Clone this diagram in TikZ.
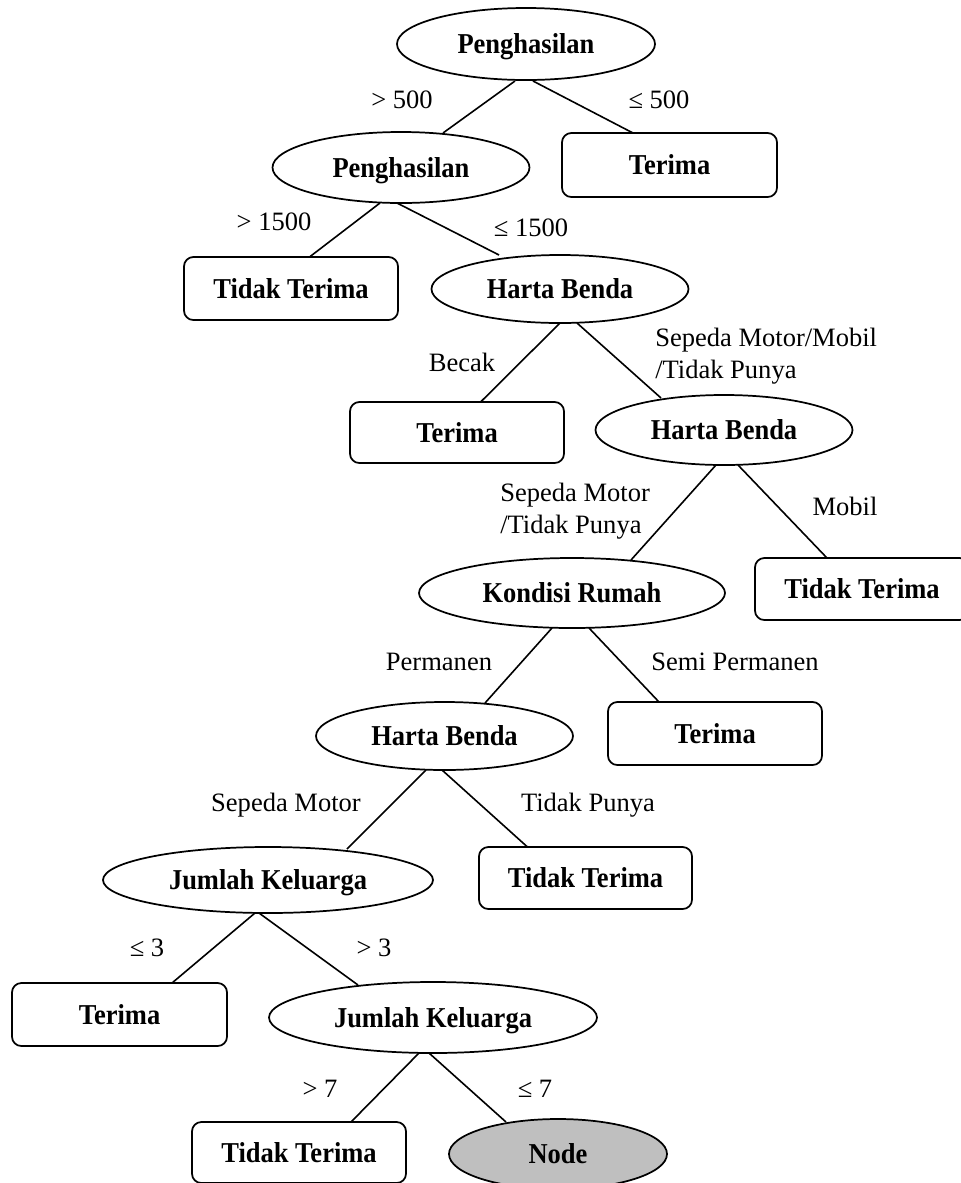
\documentclass[tikz,border=0pt]{standalone}
\usepackage{fontspec}
\setmainfont{Liberation Serif}
\newfontfamily\nodefont{Liberation Serif}[FakeStretch=0.92]
\usetikzlibrary{shapes.geometric,calc}

\tikzset{
  base/.style={font=\fontsize{19.9}{24}\selectfont, text height=13.2pt, text depth=0pt, inner sep=0pt},
  dec/.style 2 args={inner sep=0pt, text height=14.4pt, text depth=0pt, ellipse, draw, line width=1.3pt,
    font=\nodefont\fontsize{21.6}{24}\selectfont\bfseries,
    minimum width=#1*0.75pt, minimum height=#2*0.75pt},
  leaf/.style 2 args={inner sep=0pt, text height=14.4pt, text depth=0pt, rectangle, rounded corners=7pt, draw, line width=1.3pt,
    font=\nodefont\fontsize{21.6}{24}\selectfont\bfseries,
    minimum width=#1*0.75pt, minimum height=#2*0.75pt},
  lbl/.style={base},
  lbl2/.style={font=\fontsize{19.9}{24}\selectfont, inner sep=0pt, align=left, anchor=west},
  edge/.style={line width=1.2pt}
}

\begin{document}
\begin{tikzpicture}[x=0.75pt,y=-0.75pt]
\useasboundingbox (0,0) rectangle (961,1183);
\clip (0,0) rectangle (961,1183);

% decision and leaf nodes
\node[dec={258}{72}]  (root) at (526,44)     {Penghasilan};
\node[leaf={215}{64}] (t1)   at (669.5,165)  {Terima};
\node[dec={257}{71}]  (p2)   at (401,167.5)  {Penghasilan};
\node[leaf={214}{63}] (tt1)  at (291,288.5)  {Tidak Terima};
\node[dec={257}{68}]  (hb1)  at (560,289)    {Harta Benda};
\node[leaf={214}{61}] (t2)   at (457,432.5)  {Terima};
\node[dec={257}{70}]  (hb2)  at (724,430)    {Harta Benda};
\node[dec={306}{70}]  (kr)   at (572,593)    {Kondisi Rumah};
\node[leaf={214}{62}] (tt2)  at (862,589)    {Tidak Terima};
\node[dec={257}{68}]  (hb3)  at (444.5,736)  {Harta Benda};
\node[leaf={214}{63}] (t3)   at (715,733.5)  {Terima};
\node[dec={330}{66}]  (jk1)  at (268,880)    {Jumlah Keluarga};
\node[leaf={213}{62}] (tt3)  at (585.5,878)  {Tidak Terima};
\node[leaf={215}{63}] (t4)   at (119.5,1014.5) {Terima};
\node[dec={328}{71}]  (jk2)  at (433,1017.5) {Jumlah Keluarga};
\node[leaf={214}{61}] (tt4)  at (299,1152.5) {Tidak Terima};
\node[dec={218}{70}, fill=black!25] (nd) at (558,1154) {Node};

% branches
\draw[edge] ($(root)+(-11,37)$)  -- ($(p2)+(42,-34.5)$);
\draw[edge] ($(root)+(7,37)$)    -- ($(t1)+(-36.5,-32)$);
\draw[edge] ($(p2)+(-21,35.5)$)  -- ($(tt1)+(18.5,-31.5)$);
\draw[edge] ($(p2)+(-4,35.5)$)   -- ($(hb1)+(-61,-34)$);
\draw[edge] ($(hb1)+(0,34)$)     -- ($(t2)+(23.6,-30.5)$);
\draw[edge] ($(hb1)+(17,34)$)    -- ($(hb2)+(-63,-32)$);
\draw[edge] ($(hb2)+(-8,35)$)    -- ($(kr)+(59,-33)$);
\draw[edge] ($(hb2)+(14,35)$)    -- ($(tt2)+(-35,-31)$);
\draw[edge] ($(kr)+(-20,35)$)    -- ($(hb3)+(40.5,-33)$);
\draw[edge] ($(kr)+(17,35)$)     -- ($(t3)+(-56,-31.5)$);
\draw[edge] ($(hb3)+(-18.5,34)$) -- ($(jk1)+(79,-31)$);
\draw[edge] ($(hb3)+(-2.5,34)$)  -- ($(tt3)+(-58,-31)$);
\draw[edge] ($(jk1)+(-13,33)$)   -- ($(t4)+(52.5,-31.5)$);
\draw[edge] ($(jk1)+(-9,33)$)    -- ($(jk2)+(-75,-32.5)$);
\draw[edge] ($(jk2)+(-14,35.5)$) -- ($(tt4)+(52,-30.5)$);
\draw[edge] ($(jk2)+(-4,35.5)$)  -- ($(nd)+(-52,-32)$);

% branch labels
\node[lbl] (l1)  at (402,100)  {> 500};
\node[lbl] (l2)  at (659,100)  {≤ 500};
\node[lbl] (l3)  at (274,222)  {> 1500};
\node[lbl] (l4)  at (531,228)  {≤ 1500};
\node[lbl] (l5)  at (462,363)  {Becak};
\node[lbl2] (l6) at (655,356)  {Sepeda Motor/Mobil\\/Tidak Punya};
\node[lbl2] (l7) at (500,511)  {Sepeda Motor\\/Tidak Punya};
\node[lbl] (l8)  at (845,507)  {Mobil};
\node[lbl] (l9)  at (439,662)  {Permanen};
\node[lbl] (l10) at (735,662)  {Semi Permanen};
\node[lbl] (l11) at (286,803)  {Sepeda Motor};
\node[lbl] (l12) at (588,803)  {Tidak Punya};
\node[lbl] (l13) at (147,948)  {≤ 3};
\node[lbl] (l14) at (374,948)  {> 3};
\node[lbl] (l15) at (320,1089) {> 7};
\node[lbl] (l16) at (535,1089) {≤ 7};
\end{tikzpicture}
\end{document}
